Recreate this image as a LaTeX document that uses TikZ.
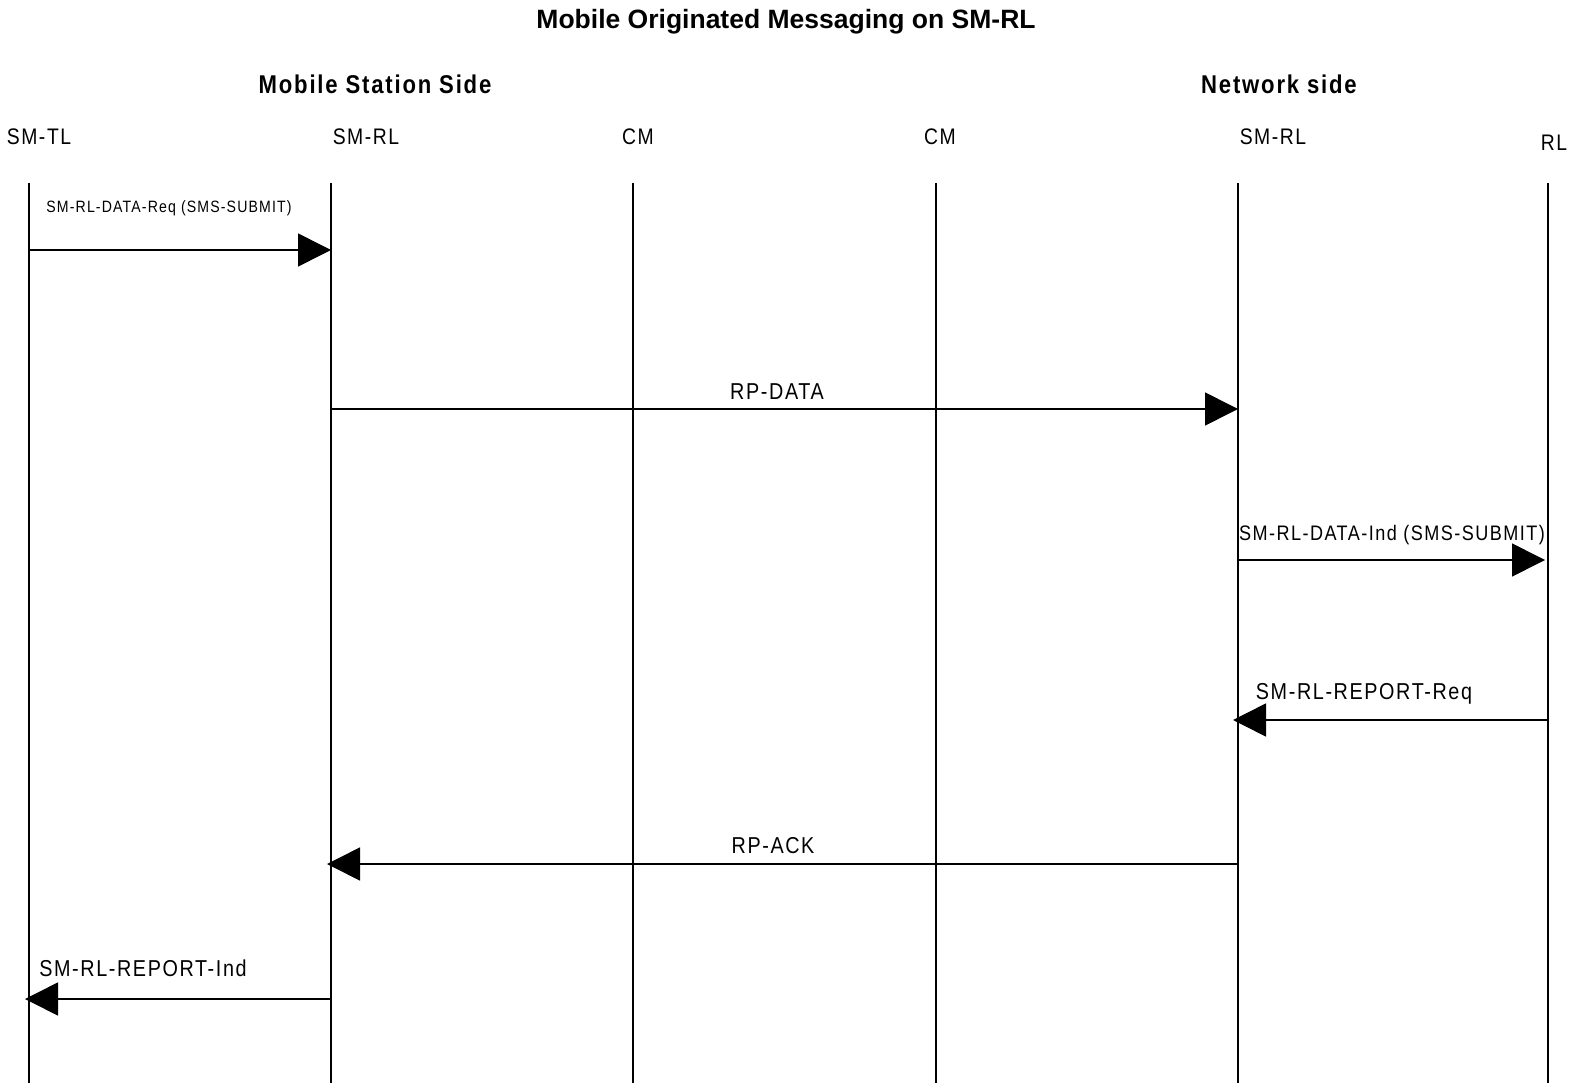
\documentclass[tikz,border=0pt]{standalone}
\usepackage{fontspec}
\setmainfont{Liberation Sans}
\newfontfamily\narrowsp[FakeStretch=0.86,LetterSpace=7]{Liberation Sans}
\usetikzlibrary{arrows.meta}
\tikzset{
  life/.style={line width=1.6pt},
  msg/.style={line width=1.6pt, -{Triangle[length=33pt,width=33pt]}},
  title/.style={font=\bfseries\fontsize{26.5}{30}\selectfont, inner sep=0pt},
  side/.style={font=\narrowsp\bfseries\fontsize{25.7}{29}\selectfont, inner sep=0pt},
  head/.style={font=\narrowsp\fontsize{22.5}{26}\selectfont, inner sep=0pt},
  lbl/.style={font=\narrowsp\fontsize{23}{27}\selectfont, inner sep=0pt},
}
\begin{document}
\begin{tikzpicture}[x=1pt,y=-1pt]
\useasboundingbox (0,0) rectangle (1571,1083);
% titles
\node[title] (ttl) at (786,22) {Mobile Originated Messaging on SM-RL};
\node[side] (ms) at (375,84) {Mobile Station Side};
\node[side] (ns) at (1279,84) {Network side};
% lifeline heads
\node[head] (h1) at (39,137) {SM-TL};
\node[head] (h2) at (366,137) {SM-RL};
\node[head] (h3) at (638,137) {CM};
\node[head] (h4) at (940,137) {CM};
\node[head] (h5) at (1273,137) {SM-RL};
\node[head] (h6) at (1554,143) {RL};
% lifelines
\foreach \i/\x in {1/29,2/331,3/633,4/936,5/1238,6/1548}{
  \coordinate (t\i) at (\x,183);
  \coordinate (b\i) at (\x,1083);
  \draw[life] (t\i) -- (b\i);
}
% message end points
\coordinate (m1a) at (29,250);   \coordinate (m1b) at (331,250);
\coordinate (m2a) at (331,409);  \coordinate (m2b) at (1238,409);
\coordinate (m3a) at (1238,560); \coordinate (m3b) at (1545,560);
\coordinate (m4a) at (1548,720); \coordinate (m4b) at (1233,720);
\coordinate (m5a) at (1238,864); \coordinate (m5b) at (327,864);
\coordinate (m6a) at (331,999);  \coordinate (m6b) at (25,999);
\draw[msg] (m1a) -- (m1b);
\draw[msg] (m2a) -- (m2b);
\draw[msg] (m3a) -- (m3b);
\draw[msg] (m4a) -- (m4b);
\draw[msg] (m5a) -- (m5b);
\draw[msg] (m6a) -- (m6b);
% labels
\node[lbl, font=\narrowsp\fontsize{16.4}{19}\selectfont] (l1) at (169,208) {SM-RL-DATA-Req (SMS-SUBMIT)};
\node[lbl] (l2) at (777,392) {RP-DATA};
\node[lbl, font=\narrowsp\fontsize{21}{24}\selectfont] (l3) at (1392,535) {SM-RL-DATA-Ind (SMS-SUBMIT)};
\node[lbl] (l4) at (1364,694) {SM-RL-REPORT-Req};
\node[lbl] (l5) at (773,846) {RP-ACK};
\node[lbl] (l6) at (143,968) {SM-RL-REPORT-Ind};
\end{tikzpicture}
\end{document}
